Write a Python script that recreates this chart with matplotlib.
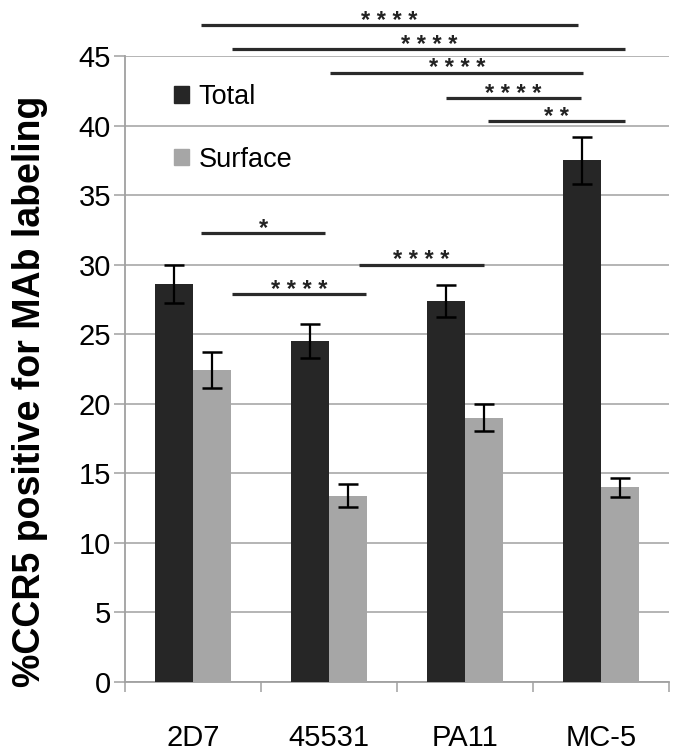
import matplotlib
matplotlib.use('Agg')
import matplotlib.pyplot as plt
from matplotlib.patches import Patch
import numpy as np

plt.rcParams['font.family'] = ['Liberation Sans', 'DejaVu Sans']

# values
categories = ['2D7', '45531', 'PA11', 'MC-5']
total = [28.6, 24.5, 27.4, 37.5]
total_err = [1.35, 1.2, 1.15, 1.7]
surface = [22.4, 13.4, 19.0, 14.0]
surface_err = [1.3, 0.8, 0.95, 0.7]

# significance brackets (x in category units)
sig_x0 = [0.06, 0.29, 1.01, 1.86, 2.17, 0.06, 1.22, 0.29]
sig_x1 = [2.83, 3.18, 2.87, 2.85, 3.18, 0.97, 2.14, 1.27]
sig_y = [47.2, 45.5, 43.8, 42.0, 40.3, 32.3, 30.0, 27.9]
sig_text = ['****', '****', '****', '****', '**', '*', '****', '****']

fig = plt.figure(figsize=(6.81, 7.54), dpi=100)
ax = fig.add_axes([125/681, 72/754, 544/681, 626/754])

x = np.arange(len(categories))
w = 0.283
ax.bar(x - w/2, total, w, color='#262626', zorder=3)
ax.bar(x + w/2, surface, w, color='#a6a6a6', zorder=3)
ax.errorbar(x - w/2, total, yerr=total_err, fmt='none', ecolor='black',
            elinewidth=1.6, capsize=7.5, capthick=1.8, zorder=4)
ax.errorbar(x + w/2, surface, yerr=surface_err, fmt='none', ecolor='black',
            elinewidth=1.6, capsize=7.5, capthick=1.8, zorder=4)

for x0, x1, y, t in zip(sig_x0, sig_x1, sig_y, sig_text):
    ax.plot([x0, x1], [y, y], color='#2a2a2a', lw=2.3, clip_on=False,
            solid_capstyle='butt', zorder=5)
    ax.text((x0 + x1) / 2, y - 0.2, ' '.join(t), ha='center', va='baseline',
            fontsize=17, fontweight='bold', color='#222222', clip_on=False)

ax.set_xlim(-0.5, 3.5)
ax.set_ylim(0, 45)
ax.set_yticks(np.arange(0, 46, 5))
ax.yaxis.grid(True, color='#a0a0a0', lw=1.1)
ax.set_axisbelow(True)

ax.set_xticks(np.arange(-0.5, 3.6, 1))
ax.set_xticklabels([])
ax.set_xticks(x, minor=True)
ax.set_xticklabels(categories, minor=True)
ax.tick_params(axis='x', which='major', direction='out', length=7,
               width=1.1, color='#a0a0a0')
ax.tick_params(axis='x', which='minor', length=0, pad=30, labelsize=21)
ax.tick_params(axis='y', direction='out', length=8, width=1.1,
               color='#a0a0a0', labelsize=21, pad=2)

for s in ['top', 'right']:
    ax.spines[s].set_visible(False)
for s in ['left', 'bottom']:
    ax.spines[s].set_color('#a0a0a0')
    ax.spines[s].set_linewidth(1.3)

handles = [Patch(color='#262626', label='Total'),
           Patch(color='#a6a6a6', label='Surface')]
ax.legend(handles=handles, loc='upper left', bbox_to_anchor=(0.09, 0.955),
          frameon=False, fontsize=19.5, handlelength=0.55, handleheight=0.55,
          handletextpad=0.35, labelspacing=1.35, borderpad=0, borderaxespad=0)

fig.text(30/681, 1 - 391/754, '%CCR5 positive for MAb labeling', rotation=90,
         ha='center', va='center', fontsize=27, fontweight='bold')

fig.savefig('out.png', dpi=100)
